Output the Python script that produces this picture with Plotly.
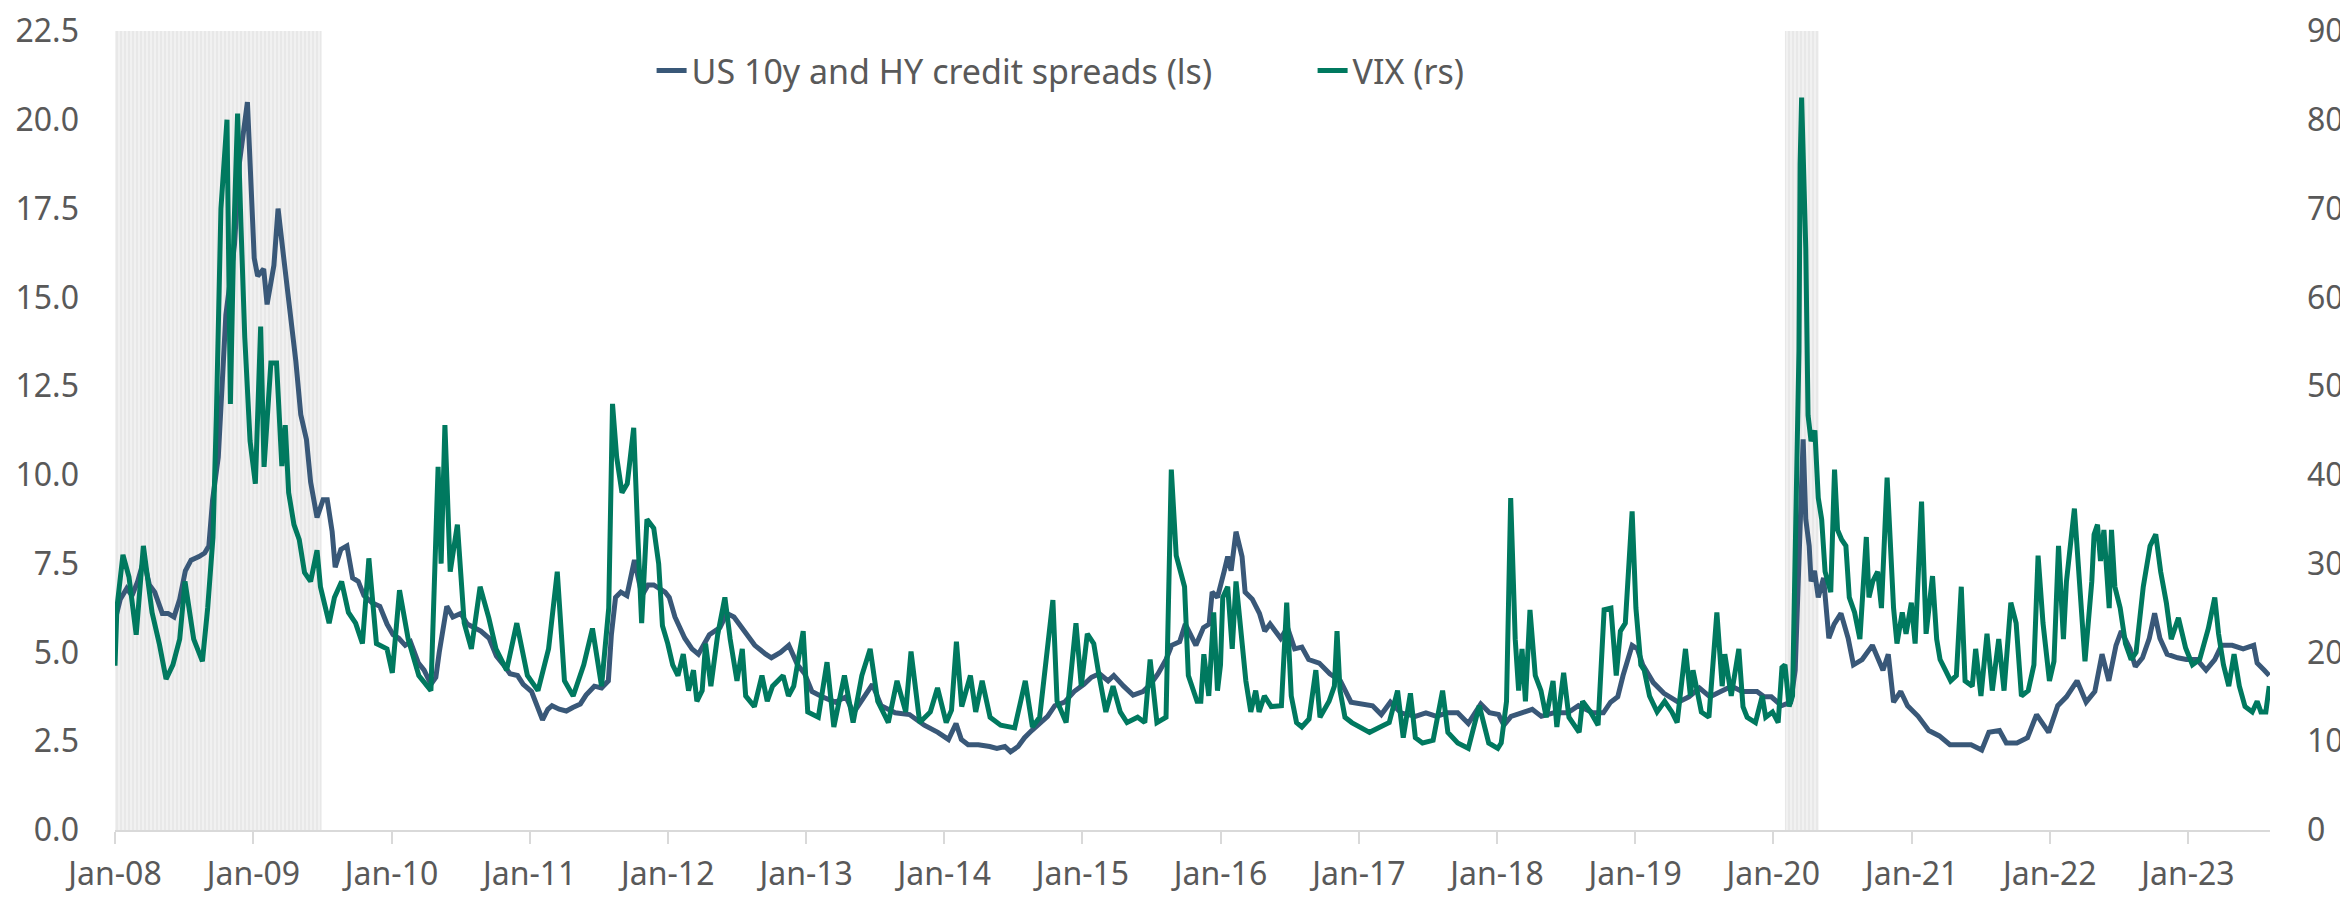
import plotly.graph_objects as go

# US 10y and HY credit spreads, left scale (date, value)
credit_points = [
    ("2008-01-01", 5.9), ("2008-01-15", 6.5), ("2008-02-01", 6.8), ("2008-02-15", 6.6),
    ("2008-03-01", 7.0), ("2008-03-17", 7.6), ("2008-04-01", 6.9), ("2008-04-15", 6.7),
    ("2008-05-05", 6.1), ("2008-05-20", 6.1), ("2008-06-05", 6.0), ("2008-06-20", 6.5),
    ("2008-07-05", 7.3), ("2008-07-20", 7.6), ("2008-08-10", 7.7), ("2008-08-25", 7.8),
    ("2008-09-05", 8.0), ("2008-09-15", 9.3), ("2008-09-30", 10.5), ("2008-10-10", 12.5),
    ("2008-10-20", 14.5), ("2008-11-01", 15.5), ("2008-11-12", 16.5), ("2008-11-25", 18.8),
    ("2008-12-16", 20.5), ("2009-01-03", 16.1), ("2009-01-12", 15.6), ("2009-01-28", 15.8),
    ("2009-02-06", 14.8), ("2009-02-24", 15.9), ("2009-03-07", 17.5), ("2009-03-21", 16.2),
    ("2009-04-04", 15.0), ("2009-04-23", 13.2), ("2009-05-06", 11.7), ("2009-05-21", 11.0),
    ("2009-06-01", 9.8), ("2009-06-18", 8.8), ("2009-07-04", 9.3), ("2009-07-15", 9.3),
    ("2009-07-28", 8.4), ("2009-08-05", 7.4), ("2009-08-20", 7.9), ("2009-09-05", 8.0),
    ("2009-09-20", 7.1), ("2009-10-05", 7.0), ("2009-10-20", 6.6), ("2009-11-10", 6.4),
    ("2009-12-01", 6.3), ("2009-12-20", 5.8), ("2010-01-05", 5.5), ("2010-01-20", 5.4),
    ("2010-02-06", 5.2), ("2010-02-20", 5.3), ("2010-03-13", 4.7), ("2010-03-28", 4.5),
    ("2010-04-15", 4.1), ("2010-04-28", 4.3), ("2010-05-07", 5.0), ("2010-05-27", 6.3),
    ("2010-06-12", 6.0), ("2010-07-03", 6.1), ("2010-07-20", 5.8), ("2010-08-10", 5.7),
    ("2010-08-25", 5.6), ("2010-09-16", 5.4), ("2010-10-05", 4.9), ("2010-10-24", 4.65),
    ("2010-11-10", 4.4), ("2010-11-30", 4.35), ("2010-12-15", 4.1), ("2011-01-06", 3.9),
    ("2011-01-20", 3.5), ("2011-02-04", 3.1), ("2011-02-18", 3.4), ("2011-03-01", 3.5),
    ("2011-03-20", 3.4), ("2011-04-08", 3.35), ("2011-04-25", 3.45), ("2011-05-15", 3.55),
    ("2011-05-30", 3.8), ("2011-06-21", 4.05), ("2011-07-10", 4.0), ("2011-07-28", 4.2),
    ("2011-08-05", 5.5), ("2011-08-16", 6.55), ("2011-08-30", 6.7), ("2011-09-15", 6.6),
    ("2011-09-25", 7.1), ("2011-10-05", 7.6), ("2011-10-25", 6.6), ("2011-11-10", 6.9),
    ("2011-11-25", 6.9), ("2011-12-10", 6.8), ("2011-12-25", 6.7), ("2012-01-05", 6.55),
    ("2012-01-20", 6.0), ("2012-02-15", 5.4), ("2012-03-05", 5.1), ("2012-03-22", 4.95),
    ("2012-04-20", 5.5), ("2012-05-18", 5.7), ("2012-06-05", 6.1), ("2012-06-24", 6.0),
    ("2012-07-21", 5.6), ("2012-08-18", 5.2), ("2012-09-16", 4.95), ("2012-10-01", 4.85),
    ("2012-10-25", 5.0), ("2012-11-16", 5.2), ("2012-12-09", 4.65), ("2012-12-28", 4.4),
    ("2013-01-16", 3.9), ("2013-02-12", 3.75), ("2013-03-19", 3.6), ("2013-04-16", 3.75),
    ("2013-05-06", 3.3), ("2013-06-12", 3.9), ("2013-06-25", 4.1), ("2013-07-18", 3.5),
    ("2013-08-24", 3.3), ("2013-10-01", 3.25), ("2013-10-20", 3.1), ("2013-11-09", 2.95),
    ("2013-12-15", 2.75), ("2014-01-12", 2.55), ("2014-02-01", 3.0), ("2014-02-15", 2.55),
    ("2014-03-05", 2.4), ("2014-04-01", 2.4), ("2014-05-01", 2.35), ("2014-05-20", 2.3),
    ("2014-06-10", 2.35), ("2014-06-25", 2.2), ("2014-07-15", 2.35), ("2014-08-01", 2.6),
    ("2014-08-20", 2.8), ("2014-09-10", 3.0), ("2014-10-01", 3.2), ("2014-10-20", 3.5),
    ("2014-11-15", 3.6), ("2014-12-10", 3.9), ("2015-01-05", 4.1), ("2015-01-25", 4.3),
    ("2015-02-15", 4.4), ("2015-03-10", 4.2), ("2015-03-25", 4.35), ("2015-04-20", 4.05),
    ("2015-05-15", 3.8), ("2015-06-10", 3.9), ("2015-06-30", 4.1), ("2015-07-20", 4.4),
    ("2015-08-10", 4.8), ("2015-08-25", 5.2), ("2015-09-15", 5.3), ("2015-09-30", 5.8),
    ("2015-10-15", 5.5), ("2015-10-28", 5.2), ("2015-11-17", 5.7), ("2015-12-02", 5.8),
    ("2015-12-10", 6.7), ("2015-12-24", 6.55), ("2016-01-11", 7.3), ("2016-01-20", 7.7),
    ("2016-01-29", 7.3), ("2016-02-11", 8.4), ("2016-02-27", 7.7), ("2016-03-06", 6.7),
    ("2016-03-25", 6.5), ("2016-04-13", 6.1), ("2016-04-27", 5.6), ("2016-05-11", 5.8),
    ("2016-06-08", 5.4), ("2016-06-26", 5.7), ("2016-07-15", 5.1), ("2016-08-03", 5.15),
    ("2016-08-21", 4.8), ("2016-09-18", 4.7), ("2016-10-16", 4.4), ("2016-11-13", 4.2),
    ("2016-12-11", 3.6), ("2017-01-09", 3.55), ("2017-02-06", 3.5), ("2017-03-01", 3.25),
    ("2017-03-25", 3.6), ("2017-04-22", 3.3), ("2017-05-30", 3.2), ("2017-06-27", 3.3),
    ("2017-07-25", 3.2), ("2017-08-22", 3.3), ("2017-09-19", 3.3), ("2017-10-17", 3.0),
    ("2017-11-19", 3.55), ("2017-12-12", 3.3), ("2018-01-05", 3.25), ("2018-01-19", 2.95),
    ("2018-02-07", 3.2), ("2018-03-07", 3.3), ("2018-04-04", 3.4), ("2018-04-28", 3.2),
    ("2018-05-31", 3.3), ("2018-07-07", 3.3), ("2018-08-04", 3.5), ("2018-09-11", 3.3),
    ("2018-10-09", 3.3), ("2018-10-28", 3.6), ("2018-11-16", 3.75), ("2018-11-30", 4.35),
    ("2018-12-24", 5.2), ("2019-01-07", 5.1), ("2019-01-21", 4.65), ("2019-02-18", 4.15),
    ("2019-03-18", 3.85), ("2019-04-25", 3.6), ("2019-05-23", 3.75), ("2019-06-20", 4.0),
    ("2019-07-18", 3.75), ("2019-08-15", 3.9), ("2019-09-13", 4.05), ("2019-10-11", 3.9),
    ("2019-11-19", 3.9), ("2019-12-08", 3.75), ("2019-12-27", 3.75), ("2020-01-23", 3.5),
    ("2020-02-16", 3.6), ("2020-02-28", 4.5), ("2020-03-09", 7.3), ("2020-03-16", 9.5),
    ("2020-03-20", 11.0), ("2020-03-27", 8.75), ("2020-04-05", 8.0), ("2020-04-10", 7.0),
    ("2020-04-19", 7.3), ("2020-04-29", 6.55), ("2020-05-13", 7.1), ("2020-05-27", 5.4),
    ("2020-06-10", 5.8), ("2020-06-28", 6.1), ("2020-07-17", 5.4), ("2020-07-31", 4.65),
    ("2020-08-23", 4.8), ("2020-09-19", 5.2), ("2020-10-17", 4.5), ("2020-10-31", 4.95),
    ("2020-11-14", 3.6), ("2020-12-03", 3.9), ("2020-12-21", 3.5), ("2021-01-18", 3.2),
    ("2021-02-15", 2.8), ("2021-03-15", 2.65), ("2021-04-12", 2.4), ("2021-05-10", 2.4),
    ("2021-06-07", 2.4), ("2021-07-05", 2.25), ("2021-07-24", 2.75), ("2021-08-21", 2.8),
    ("2021-09-08", 2.45), ("2021-10-06", 2.45), ("2021-11-03", 2.6), ("2021-11-27", 3.25),
    ("2021-12-15", 3.0), ("2021-12-29", 2.75), ("2022-01-22", 3.5), ("2022-02-14", 3.75),
    ("2022-03-14", 4.2), ("2022-04-07", 3.6), ("2022-04-30", 3.9), ("2022-05-19", 4.95),
    ("2022-06-06", 4.2), ("2022-06-25", 5.2), ("2022-07-09", 5.6), ("2022-08-01", 5.1),
    ("2022-08-15", 4.6), ("2022-09-03", 4.85), ("2022-09-21", 5.4), ("2022-10-05", 6.1),
    ("2022-10-19", 5.4), ("2022-11-07", 4.95), ("2022-12-05", 4.85), ("2022-12-28", 4.8),
    ("2023-01-25", 4.8), ("2023-02-18", 4.5), ("2023-03-13", 4.8), ("2023-03-31", 5.2),
    ("2023-04-28", 5.2), ("2023-05-27", 5.1), ("2023-06-24", 5.2), ("2023-07-03", 4.7),
    ("2023-07-22", 4.5), ("2023-08-04", 4.35),
]

# VIX, right scale (date, value)
vix_points = [
    ("2008-01-01", 18.5), ("2008-01-06", 25), ("2008-01-22", 31), ("2008-02-07", 28.5),
    ("2008-02-26", 22), ("2008-03-16", 32), ("2008-04-08", 24.5), ("2008-04-27", 21),
    ("2008-05-15", 17), ("2008-06-02", 18.6), ("2008-06-20", 21.5), ("2008-07-04", 28),
    ("2008-07-27", 21.5), ("2008-08-19", 19), ("2008-09-02", 25), ("2008-09-16", 33),
    ("2008-09-25", 46.7), ("2008-10-07", 70), ("2008-10-23", 80), ("2008-11-01", 48),
    ("2008-11-10", 67), ("2008-11-20", 80.7), ("2008-11-29", 68), ("2008-12-09", 55.5),
    ("2008-12-23", 43.8), ("2009-01-06", 39), ("2009-01-20", 56.7), ("2009-01-29", 40.9),
    ("2009-02-16", 52.6), ("2009-03-03", 52.6), ("2009-03-17", 41), ("2009-03-26", 45.6),
    ("2009-04-04", 38), ("2009-04-18", 34.4), ("2009-05-02", 32.7), ("2009-05-16", 29),
    ("2009-06-01", 28), ("2009-06-18", 31.5), ("2009-06-27", 27.4), ("2009-07-20", 23.3),
    ("2009-08-03", 26.2), ("2009-08-22", 28), ("2009-09-09", 24.5), ("2009-09-28", 23.3),
    ("2009-10-16", 21), ("2009-11-02", 30.6), ("2009-11-22", 21), ("2009-12-20", 20.4),
    ("2010-01-03", 17.7), ("2010-01-22", 27), ("2010-02-14", 21.5), ("2010-03-14", 17.4),
    ("2010-04-15", 15.7), ("2010-05-04", 40.9), ("2010-05-12", 30), ("2010-05-22", 45.6),
    ("2010-06-05", 29.1), ("2010-06-24", 34.4), ("2010-07-12", 23.3), ("2010-07-31", 20.4),
    ("2010-08-23", 27.4), ("2010-09-15", 23.9), ("2010-10-04", 20.4), ("2010-11-01", 18),
    ("2010-11-28", 23.3), ("2010-12-26", 17.4), ("2011-01-23", 15.7), ("2011-02-20", 20.4),
    ("2011-03-15", 29.1), ("2011-04-03", 16.8), ("2011-04-26", 15.1), ("2011-05-24", 18.6),
    ("2011-06-16", 22.7), ("2011-07-10", 16.2), ("2011-07-29", 25), ("2011-08-08", 48),
    ("2011-08-19", 42), ("2011-09-02", 38), ("2011-09-16", 39), ("2011-10-03", 45.3),
    ("2011-10-14", 33), ("2011-10-24", 23.3), ("2011-11-07", 35), ("2011-11-25", 34),
    ("2011-12-08", 30), ("2011-12-18", 23), ("2012-01-01", 21), ("2012-01-14", 18.6),
    ("2012-01-28", 17.4), ("2012-02-11", 19.8), ("2012-02-25", 15.7), ("2012-03-09", 18),
    ("2012-03-18", 14.5), ("2012-04-01", 15.7), ("2012-04-10", 21), ("2012-04-24", 16.2),
    ("2012-05-12", 22), ("2012-05-31", 26.2), ("2012-06-14", 21.5), ("2012-07-02", 16.8),
    ("2012-07-16", 20.4), ("2012-07-25", 15.1), ("2012-08-17", 13.9), ("2012-09-06", 17.4),
    ("2012-09-20", 14.5), ("2012-10-04", 16.2), ("2012-11-01", 17.4), ("2012-11-15", 15.1),
    ("2012-11-29", 16.2), ("2012-12-24", 22.4), ("2013-01-05", 13.3), ("2013-02-02", 12.7),
    ("2013-02-25", 18.9), ("2013-03-15", 11.6), ("2013-04-12", 17.4), ("2013-05-05", 12.1),
    ("2013-05-28", 17.4), ("2013-06-19", 20.4), ("2013-07-09", 14.5), ("2013-08-06", 12.1),
    ("2013-08-29", 16.8), ("2013-09-21", 13.3), ("2013-10-05", 20.1), ("2013-10-28", 12.1),
    ("2013-11-25", 13.3), ("2013-12-14", 16), ("2014-01-06", 12.1), ("2014-01-20", 13.5),
    ("2014-02-02", 21.2), ("2014-02-16", 13.9), ("2014-03-11", 17.4), ("2014-03-25", 13.3),
    ("2014-04-11", 16.8), ("2014-05-02", 12.7), ("2014-05-30", 11.8), ("2014-06-17", 11.6),
    ("2014-07-06", 11.5), ("2014-08-03", 16.8), ("2014-08-22", 11.6), ("2014-09-10", 12.7),
    ("2014-10-15", 25.9), ("2014-10-26", 14.5), ("2014-11-19", 12.1), ("2014-12-15", 23.3),
    ("2014-12-29", 16.2), ("2015-01-14", 22.1), ("2015-01-31", 21), ("2015-02-14", 17.4),
    ("2015-03-04", 13.3), ("2015-03-23", 16.2), ("2015-04-11", 13.3), ("2015-04-29", 12.1),
    ("2015-05-27", 12.7), ("2015-06-15", 12.1), ("2015-06-29", 19.2), ("2015-07-17", 12.1),
    ("2015-08-10", 12.7), ("2015-08-24", 40.6), ("2015-09-06", 30.9), ("2015-09-28", 27.4),
    ("2015-10-08", 17.4), ("2015-10-31", 14.5), ("2015-11-10", 14.5), ("2015-11-18", 19.8),
    ("2015-12-01", 15.1), ("2015-12-14", 24.5), ("2015-12-24", 15.7), ("2016-01-01", 18.6),
    ("2016-01-07", 26.2), ("2016-01-20", 27.4), ("2016-02-01", 20.4), ("2016-02-11", 28),
    ("2016-03-01", 20.4), ("2016-03-08", 16.8), ("2016-03-21", 13.3), ("2016-04-03", 15.7),
    ("2016-04-12", 13.3), ("2016-04-26", 15.1), ("2016-05-14", 13.9), ("2016-06-10", 14),
    ("2016-06-24", 25.6), ("2016-07-06", 15.1), ("2016-07-20", 12.1), ("2016-08-03", 11.6),
    ("2016-08-22", 12.5), ("2016-09-09", 18), ("2016-09-20", 12.7), ("2016-10-14", 14.5),
    ("2016-10-28", 16.2), ("2016-11-04", 22.4), ("2016-11-12", 15.7), ("2016-11-25", 12.7),
    ("2016-12-13", 12.1), ("2017-01-01", 11.6), ("2017-01-29", 11), ("2017-02-26", 11.6),
    ("2017-03-22", 12.1), ("2017-04-13", 15.7), ("2017-04-28", 10.4), ("2017-05-17", 15.4),
    ("2017-05-30", 10.4), ("2017-06-18", 9.8), ("2017-07-16", 10.1), ("2017-08-10", 15.7),
    ("2017-08-24", 11), ("2017-09-19", 9.8), ("2017-10-17", 9.2), ("2017-11-15", 14),
    ("2017-12-10", 9.8), ("2018-01-03", 9.2), ("2018-01-12", 9.8), ("2018-01-26", 14.5),
    ("2018-02-06", 37.4), ("2018-02-18", 21.5), ("2018-02-27", 15.7), ("2018-03-08", 20.4),
    ("2018-03-17", 14.5), ("2018-03-29", 24.8), ("2018-04-12", 17.4), ("2018-04-27", 15.7),
    ("2018-05-11", 12.7), ("2018-05-29", 16.8), ("2018-06-08", 11.6), ("2018-06-26", 17.7),
    ("2018-07-10", 12.7), ("2018-08-06", 11), ("2018-08-15", 14.5), ("2018-09-05", 13.3),
    ("2018-09-25", 11.8), ("2018-10-11", 24.8), ("2018-10-29", 25), ("2018-11-12", 17.4),
    ("2018-11-23", 22.4), ("2018-12-06", 23.3), ("2018-12-24", 35.9), ("2019-01-03", 25),
    ("2019-01-16", 18.6), ("2019-01-25", 18), ("2019-02-08", 15.1), ("2019-02-28", 13.3),
    ("2019-03-20", 14.5), ("2019-04-08", 13.3), ("2019-04-22", 12.1), ("2019-05-14", 20.4),
    ("2019-05-27", 15.1), ("2019-06-03", 18), ("2019-06-25", 13.3), ("2019-07-15", 12.7),
    ("2019-08-05", 24.5), ("2019-08-19", 16.2), ("2019-08-26", 19.8), ("2019-09-12", 15.1),
    ("2019-10-02", 20.4), ("2019-10-13", 13.9), ("2019-10-24", 12.7), ("2019-11-15", 12.1),
    ("2019-12-03", 15.1), ("2019-12-12", 12.7), ("2019-12-30", 13.3), ("2020-01-14", 12.1),
    ("2020-01-24", 18.3), ("2020-02-01", 18.6), ("2020-02-12", 13.9), ("2020-02-21", 15.1),
    ("2020-02-27", 28), ("2020-03-02", 39.7), ("2020-03-09", 54), ("2020-03-12", 75),
    ("2020-03-16", 82.5), ("2020-03-27", 65.5), ("2020-04-02", 46.7), ("2020-04-10", 43.8),
    ("2020-04-20", 45), ("2020-04-29", 37.4), ("2020-05-08", 35), ("2020-05-17", 29.1),
    ("2020-06-01", 26.8), ("2020-06-11", 40.6), ("2020-06-19", 33.8), ("2020-06-30", 32.7),
    ("2020-07-11", 32), ("2020-07-20", 26.2), ("2020-08-03", 24.5), ("2020-08-17", 21.5),
    ("2020-09-03", 33), ("2020-09-10", 26.2), ("2020-09-20", 28), ("2020-10-03", 29.1),
    ("2020-10-13", 25), ("2020-10-28", 39.7), ("2020-11-05", 33.3), ("2020-11-14", 25),
    ("2020-11-23", 21), ("2020-12-07", 24.5), ("2020-12-17", 22.1), ("2020-12-31", 25.6),
    ("2021-01-10", 21), ("2021-01-27", 37), ("2021-02-08", 22.1), ("2021-02-25", 28.6),
    ("2021-03-08", 21.5), ("2021-03-17", 19.2), ("2021-03-31", 18), ("2021-04-14", 16.8),
    ("2021-04-29", 17.4), ("2021-05-12", 27.4), ("2021-05-22", 16.8), ("2021-06-10", 16.2),
    ("2021-06-19", 20.4), ("2021-07-03", 15.1), ("2021-07-19", 22.1), ("2021-08-02", 15.7),
    ("2021-08-19", 21.5), ("2021-09-02", 15.7), ("2021-09-20", 25.6), ("2021-10-04", 23.3),
    ("2021-10-18", 15.1), ("2021-11-05", 15.7), ("2021-11-20", 18.6), ("2021-12-01", 30.9),
    ("2021-12-14", 23.3), ("2021-12-22", 20), ("2021-12-31", 16.8), ("2022-01-12", 19),
    ("2022-01-24", 32), ("2022-02-06", 21.5), ("2022-02-14", 28), ("2022-03-07", 36.2),
    ("2022-03-14", 32), ("2022-03-28", 23.3), ("2022-04-04", 19), ("2022-04-22", 28),
    ("2022-04-28", 33.3), ("2022-05-07", 34.4), ("2022-05-15", 30.3), ("2022-05-24", 33.8),
    ("2022-06-07", 25), ("2022-06-13", 33.8), ("2022-06-22", 27.4), ("2022-07-06", 25),
    ("2022-07-20", 21), ("2022-08-04", 19.2), ("2022-08-17", 20), ("2022-09-05", 27.4),
    ("2022-09-23", 32), ("2022-10-08", 33.3), ("2022-10-21", 29.1), ("2022-11-05", 25.6),
    ("2022-11-18", 21.5), ("2022-12-07", 23.9), ("2022-12-26", 20.5), ("2023-01-13", 18.6),
    ("2023-02-01", 19.2), ("2023-02-24", 22.7), ("2023-03-13", 26.2), ("2023-03-23", 22.1),
    ("2023-04-05", 18.6), ("2023-04-19", 16.2), ("2023-05-03", 19.8), ("2023-05-17", 16.2),
    ("2023-06-01", 13.9), ("2023-06-20", 13.3), ("2023-07-03", 14.5), ("2023-07-13", 13.3),
    ("2023-07-26", 13.3), ("2023-08-04", 16.2),
]

# recession periods (shaded)
recession_starts = ["2008-01-01", "2020-02-01"]
recession_ends = ["2009-06-30", "2020-04-30"]

credit_dates = [d for d, v in credit_points]
credit_values = [v for d, v in credit_points]
vix_dates = [d for d, v in vix_points]
vix_values = [v for d, v in vix_points]

BLUE = "#395878"
GREEN = "#00795f"
TEXT = "#595959"
AXIS = "#d9d9d9"
FONT = "Noto Sans"
LEFT_MAX = 22.5
RIGHT_MAX = 90

fig = go.Figure()

for s, e in zip(recession_starts, recession_ends):
    fig.add_trace(go.Scatter(
        x=[s, s, e, e, s],
        y=[0, LEFT_MAX, LEFT_MAX, 0, 0],
        mode="lines",
        line=dict(width=0),
        fill="toself",
        fillcolor="#ededed",
        fillpattern=dict(shape="|", fgcolor="#d9d9d9", bgcolor="#f1f1f1",
                         size=4, solidity=0.4),
        showlegend=False,
        hoverinfo="skip",
    ))

fig.add_trace(go.Scatter(
    x=credit_dates, y=credit_values,
    name="US 10y and HY credit spreads (ls)",
    mode="lines",
    line=dict(color=BLUE, width=5),
))

fig.add_trace(go.Scatter(
    x=vix_dates, y=vix_values,
    name="VIX (rs)",
    mode="lines",
    line=dict(color=GREEN, width=5),
    yaxis="y2",
))

# the page adds an 8px body margin, so the figure is a little smaller
fig.update_layout(
    width=2340, height=890,
    paper_bgcolor="white",
    plot_bgcolor="white",
    margin=dict(l=107, r=78, t=23, b=68, autoexpand=False),
    font=dict(family=FONT, size=32, color=TEXT),
    showlegend=True,
    legend=dict(
        orientation="h",
        x=0.249, xanchor="left",
        y=0.95, yanchor="middle",
        bgcolor="rgba(0,0,0,0)",
        font=dict(family=FONT, size=34, color=TEXT),
        entrywidth=616, entrywidthmode="pixels",
        itemwidth=30,
        traceorder="normal",
    ),
    xaxis=dict(
        type="date",
        range=["2008-01-01", "2023-08-06"],
        tick0="2008-01-01",
        dtick="M12",
        tickformat="%b-%y",
        ticks="outside",
        ticklen=12,
        tickwidth=2,
        tickcolor=AXIS,
        showline=True,
        linecolor=AXIS,
        linewidth=2,
        showgrid=False,
        zeroline=False,
        automargin=False,
        ticklabelstandoff=3,
        tickfont=dict(size=32, color=TEXT),
    ),
    yaxis=dict(
        range=[0, LEFT_MAX],
        dtick=2.5,
        tick0=0,
        tickformat=".1f",
        showgrid=False,
        zeroline=False,
        showline=False,
        ticks="",
        automargin=False,
        ticklabeloverflow="allow",
        ticklabelstandoff=35,
        tickfont=dict(size=32, color=TEXT),
    ),
    yaxis2=dict(
        range=[0, RIGHT_MAX],
        dtick=10,
        tick0=0,
        overlaying="y",
        side="right",
        showgrid=False,
        zeroline=False,
        showline=False,
        ticks="",
        automargin=False,
        ticklabeloverflow="allow",
        ticklabelstandoff=36,
        tickfont=dict(size=32, color=TEXT),
    ),
)

fig.write_html("out.html")
